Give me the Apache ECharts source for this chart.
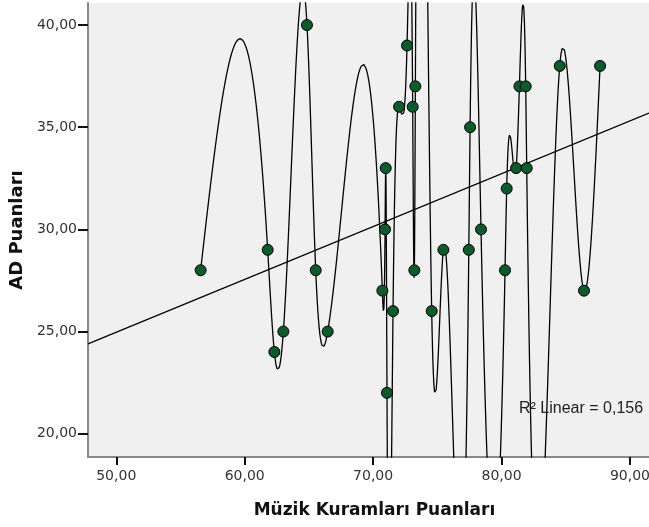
<!DOCTYPE html>
<html>
<head>
<meta charset="utf-8">
<script src="https://cdn.jsdelivr.net/npm/echarts@6/dist/echarts.min.js"></script>
<style>html,body{margin:0;padding:0;background:#fff}#c{width:649px;height:527px}</style>
</head>
<body>
<div id="c"></div>
<script>
// Müzik Kuramları Puanları (x) and AD Puanları (y)
var muzikScores = [56.57, 61.79, 62.31, 63.01, 64.85, 65.53, 66.46, 70.72, 70.93, 70.98, 71.08, 71.55,
  72.02, 72.64, 73.08, 73.21, 73.29, 74.56, 75.47, 77.45, 77.55, 78.40, 80.27, 80.40, 81.13, 81.39,
  81.88, 81.96, 84.53, 86.42, 87.67];
var adScores = [28, 29, 24, 25, 40, 28, 25, 27, 30, 33, 22, 26,
  36, 39, 36, 28, 37, 26, 29, 29, 35, 30, 28, 32, 33, 37,
  37, 33, 38, 27, 38];
var xTicks = [50, 60, 70, 80, 90];
var yTicks = [20, 25, 30, 35, 40];
var r2Label = 'R² Linear = 0,156';
var xTitle = 'Müzik Kuramları Puanları';
var yTitle = 'AD Puanları';

var xMin = 47.80, xMax = 91.48, yMin = 18.86, yMax = 41.08;

var points = muzikScores.map(function (x, i) { return [x, adScores[i]]; });

// Least-squares fit line (derived from the data)
var n = points.length, sx = 0, sy = 0, sxx = 0, sxy = 0;
points.forEach(function (p) { sx += p[0]; sy += p[1]; sxx += p[0] * p[0]; sxy += p[0] * p[1]; });
var slope = (n * sxy - sx * sy) / (n * sxx - sx * sx);
var icpt = (sy - slope * sx) / n;
var fitLine = [[xMin, icpt + slope * xMin], [xMax, icpt + slope * xMax]];

// Cubic spline interpolation line through the sorted data (as the original chart draws it)
function splineCurve(pts) {
  var s = pts.slice().sort(function (a, b) { return a[0] - b[0]; });
  var m = s.length, xs = s.map(function (p) { return p[0]; }), ys = s.map(function (p) { return p[1]; });
  var h = [], i;
  for (i = 0; i < m - 1; i++) h.push(xs[i + 1] - xs[i]);
  var a = new Array(m).fill(0), b = new Array(m).fill(1), c = new Array(m).fill(0), d = new Array(m).fill(0);
  for (i = 1; i < m - 1; i++) {
    a[i] = h[i - 1]; b[i] = 2 * (h[i - 1] + h[i]); c[i] = h[i];
    d[i] = 6 * ((ys[i + 1] - ys[i]) / h[i] - (ys[i] - ys[i - 1]) / h[i - 1]);
  }
  for (i = 1; i < m; i++) { var w = a[i] / b[i - 1]; b[i] -= w * c[i - 1]; d[i] -= w * d[i - 1]; }
  var M = new Array(m).fill(0);
  M[m - 1] = d[m - 1] / b[m - 1];
  for (i = m - 2; i >= 0; i--) M[i] = (d[i] - c[i] * M[i + 1]) / b[i];
  var out = [];
  for (i = 0; i < m - 1; i++) {
    var steps = 80;
    for (var k = 0; k < steps; k++) {
      var x = xs[i] + h[i] * k / steps, A = xs[i + 1] - x, B = x - xs[i], hi = h[i];
      var y = M[i] * A * A * A / (6 * hi) + M[i + 1] * B * B * B / (6 * hi) +
        (ys[i] / hi - M[i] * hi / 6) * A + (ys[i + 1] / hi - M[i + 1] * hi / 6) * B;
      out.push([x, y]);
    }
  }
  out.push([xs[m - 1], ys[m - 1]]);
  return out;
}
var curve = splineCurve(points);

function fmt(v) { return v.toFixed(2).replace('.', ','); }

var chart = echarts.init(document.getElementById('c'), null, { renderer: 'canvas' });
chart.setOption({
  animation: false,
  backgroundColor: '#ffffff',
  grid: { left: 88, right: 0, top: 3, bottom: 70, show: true, backgroundColor: '#f0f0f0', borderWidth: 0,
    containLabel: false, outerBoundsMode: 'none' },
  xAxis: {
    type: 'value', min: xMin, max: xMax,
    name: xTitle, nameLocation: 'middle', nameGap: 45,
    nameTextStyle: { fontFamily: 'DejaVu Sans', fontWeight: 'bold', fontSize: 17, color: '#111', padding: [0, 0, 0, 12] },
    axisLine: { show: true, lineStyle: { color: '#888', width: 2 } },
    axisTick: { show: true, length: 8, lineStyle: { color: '#111', width: 2 }, customValues: xTicks },
    axisLabel: { customValues: xTicks, formatter: fmt, margin: 12, fontFamily: 'DejaVu Sans', fontSize: 14, color: '#333',
      hideOverlap: false, showMaxLabel: true },
    splitLine: { show: false }
  },
  yAxis: {
    type: 'value', min: yMin, max: yMax,
    name: yTitle, nameLocation: 'middle', nameGap: 58,
    nameTextStyle: { fontFamily: 'DejaVu Sans', fontWeight: 'bold', fontSize: 18, color: '#111' },
    axisLine: { show: true, lineStyle: { color: '#888', width: 2 } },
    axisTick: { show: true, length: 10, lineStyle: { color: '#111', width: 2 }, customValues: yTicks },
    axisLabel: { customValues: yTicks, formatter: fmt, margin: 11, fontFamily: 'DejaVu Sans', fontSize: 14, color: '#333' },
    splitLine: { show: false }
  },
  series: [
    { type: 'line', data: curve, showSymbol: false, symbol: 'none', clip: true,
      lineStyle: { color: '#000', width: 1.3 }, z: 2 },
    { type: 'line', data: fitLine, showSymbol: false, symbol: 'none', clip: true,
      lineStyle: { color: '#000', width: 1.3 }, z: 2 },
    { type: 'scatter', data: points, symbol: 'circle', symbolSize: 11, clip: true,
      itemStyle: { color: '#0f5a2c', borderColor: '#000', borderWidth: 1, opacity: 1 }, z: 3 }
  ],
  graphic: [
    { type: 'text', left: 519, top: 401, z: 10,
      style: { text: r2Label, fontFamily: 'Liberation Sans', fontSize: 16, fill: '#222' } }
  ]
});
</script>
</body>
</html>
